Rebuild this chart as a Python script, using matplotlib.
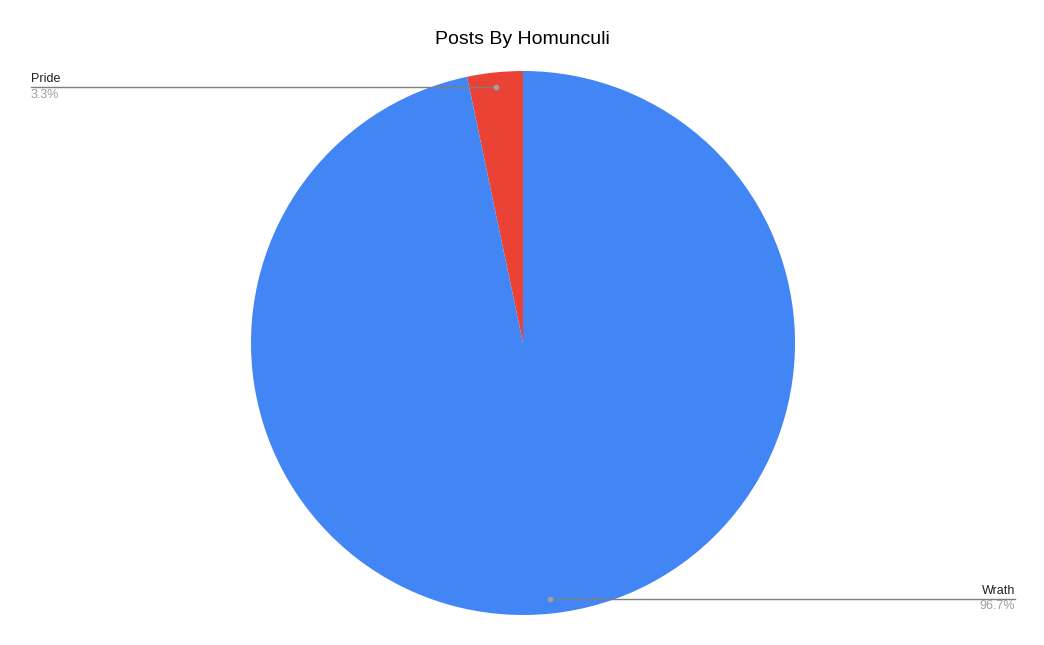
import numpy as np
import matplotlib
matplotlib.use("Agg")
import matplotlib.pyplot as plt

# Data
labels = ["Pride", "Wrath"]
values = [3.3, 96.7]
colors = ["#ea4335", "#4285f4"]

W, H = 1044, 645
plt.rcParams['font.family'] = ['Liberation Sans', 'DejaVu Sans']

fig = plt.figure(figsize=(W / 100, H / 100), dpi=100)
ax = fig.add_axes([0, 0, 1, 1])

cx, cy, R = 523, H - 343, 272
wedges, _ = ax.pie(values, colors=colors, startangle=90, counterclock=True,
                   center=(cx, cy), radius=R, frame=True,
                   wedgeprops=dict(linewidth=0))
ax.set_xlim(0, W)
ax.set_ylim(0, H)
ax.set_aspect('equal')
ax.axis('off')

# leader lines and labels
line_end = {"Pride": 31, "Wrath": 1015}
for w, lab, v in zip(wedges, labels, values):
    mid = np.deg2rad((w.theta1 + w.theta2) / 2)
    px = cx + 0.946 * R * np.cos(mid)
    py = cy + 0.946 * R * np.sin(mid)
    x_end = line_end[lab]
    ax.plot([px, x_end], [py, py], color="#7f7f7f", lw=1, zorder=3)
    ax.plot(px, py, 'o', color="#a0a0a0", ms=3, zorder=4)
    ha = 'left' if x_end < cx else 'right'
    ax.text(x_end, py + 2, lab, ha=ha, va='bottom', fontsize=9, color="#222222")
    ax.text(x_end, py - 1.5, f"{v}%", ha=ha, va='top', fontsize=9, color="#9e9e9e")

ax.text(W / 2, H - 40, "Posts By Homunculi", ha='center', va='center',
        fontsize=14, color="#000000")

fig.savefig("out.png", dpi=100)
